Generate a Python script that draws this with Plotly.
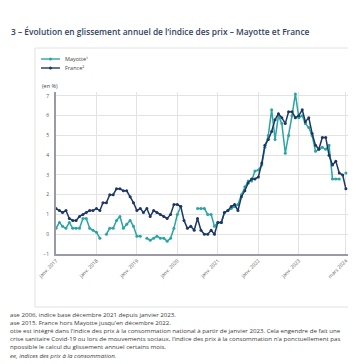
import pandas as pd
import plotly.graph_objects as go

months = pd.date_range("2017-01-01", "2024-03-01", freq="MS")

france = [
    1.3, 1.2, 1.1, 1.2, 0.8, 0.7, 0.7, 0.9, 1.0, 1.1, 1.2, 1.2,
    1.3, 1.2, 1.6, 1.6, 2.0, 2.0, 2.3, 2.3, 2.2, 2.2, 1.9, 1.6,
    1.2, 1.3, 1.1, 1.3, 0.9, 1.2, 1.1, 1.0, 0.9, 0.8, 1.0, 1.5,
    1.5, 1.4, 0.7, 0.3, 0.4, 0.2, 0.8, 0.2, 0.0, 0.0, 0.2, 0.0,
    0.6, 0.6, 1.1, 1.2, 1.4, 1.5, 1.2, 1.9, 2.2, 2.6, 2.8, 2.8,
    2.9, 3.6, 4.5, 4.8, 5.2, 5.8, 6.1, 5.9, 5.6, 6.2, 6.2, 5.9,
    6.0, 6.3, 5.7, 5.9, 5.1, 4.5, 4.3, 4.9, 4.9, 4.0, 3.5, 3.7,
    3.1, 3.0, 2.3,
]

mayotte = [
    0.3, 0.6, 0.4, 0.3, 0.6, 0.3, 0.3, 0.3, 0.8, 0.8, 0.3, 0.2,
    0.1, -0.2, None, 0.0, 0.3, 0.3, 0.7, 0.9, 0.3, 0.5, 0.7, 0.4,
    -0.1, -0.1, None, -0.2, -0.3, -0.2, -0.1, -0.2, -0.2, -0.35, -0.2, 0.3,
    1.0, 1.4, None, None, None, None, 1.3, 1.3, 1.3, 1.0, 1.0, 0.4,
    0.6, 0.6, 1.1, 1.2, 1.3, 1.4, 1.5, 2.0, 2.4, 2.7, 2.7, 3.2,
    3.25, 3.5, 4.4, 5.0, 6.3, 4.8, 6.0, 5.6, 4.1, 5.0, 6.0, 7.1,
    5.9, 6.0, 5.6, 5.4, 5.0, 4.2, 4.3, 4.4, 4.3, 4.5, 2.8, 2.8,
    2.8, None, 3.1,
]

tick_dates = ["2017-01-01", "2018-01-01", "2019-01-01", "2020-01-01",
              "2021-01-01", "2022-01-01", "2023-01-01", "2024-03-01"]
tick_labels = ["janv. 2017", "janv. 2018", "janv. 2019", "janv. 2020",
               "janv. 2021", "janv. 2022", "janv. 2023", "mars 2024"]
y_ticks = [-1, 0, 1, 2, 3, 4, 5, 6, 7]

series_names = ["Mayotte¹", "France²"]
title_text = "3 – Évolution en glissement annuel de l’indice des prix – Mayotte et France"
notes = [
    "ase 2006, indice base décembre 2021 depuis janvier 2023.",
    "ase 2015. France hors Mayotte jusqu’en décembre 2022.",
    "otte est intégré dans l’indice des prix à la consommation national à partir de janvier 2023. Cela engendre de fait une",
    "crise sanitaire Covid-19 ou lors de mouvements sociaux, l’indice des prix à la consommation n’a ponctuellement pas",
    "npossible le calcul du glissement annuel certains mois.",
    "<i>ee, indices des prix à la consommation.</i>",
]

TEAL = "#2aa5a1"
NAVY = "#1f3766"

W, H = 356, 364
L, R, T, B = 48, 16, 84, 118
pw, ph = W - L - R, H - T - B

def px(x):
    return (x - L) / pw

def py(y):
    return (H - B - y) / ph

fig = go.Figure()
fig.add_trace(go.Scatter(x=months, y=mayotte, mode="lines+markers", name=series_names[0],
                         line=dict(color=TEAL, width=1.5), marker=dict(size=3, color=TEAL),
                         showlegend=False))
fig.add_trace(go.Scatter(x=months, y=france, mode="lines+markers", name=series_names[1],
                         line=dict(color=NAVY, width=1.5), marker=dict(size=3, color=NAVY),
                         showlegend=False))

shapes = []
shapes.append(dict(type="rect", xref="paper", yref="paper", x0=px(27), x1=px(353), y0=py(299), y1=py(40),
                   line=dict(color="#e2e2e2", width=1), fillcolor="rgba(0,0,0,0)", layer="below"))
annotations = []
for i, (nm, col) in enumerate(zip(series_names, [TEAL, NAVY])):
    yy = 51 + 9 * i
    shapes.append(dict(type="line", xref="paper", yref="paper", x0=px(33), x1=px(52), y0=py(yy), y1=py(yy),
                       line=dict(color=col, width=1.4)))
    shapes.append(dict(type="circle", xref="paper", yref="paper", x0=px(41), x1=px(44), y0=py(yy + 1.5), y1=py(yy - 1.5),
                       line=dict(color=col, width=0), fillcolor=col))
    annotations.append(dict(text=nm, xref="paper", yref="paper", x=px(54.5), y=py(yy), xanchor="left", yanchor="middle",
                            showarrow=False, font=dict(size=5.5, color="#444", family="Open Sans")))

annotations.append(dict(text=title_text, xref="paper", yref="paper", x=px(1), y=py(23), xanchor="left", yanchor="middle",
                        showarrow=False, font=dict(size=8.4, color="#33425e", family="Open Sans", weight=600)))
annotations.append(dict(text="(en %)", xref="paper", yref="paper", x=px(42), y=py(78), xanchor="center", yanchor="middle",
                        showarrow=False, font=dict(size=5.5, color="#444", family="Open Sans")))
for i, t in enumerate(notes):
    annotations.append(dict(text=t, xref="paper", yref="paper", x=px(0), y=py(306.5 + 8.1 * i), xanchor="left",
                            yanchor="middle", showarrow=False,
                            font=dict(size=6.15, color="#3a3a3a", family="Open Sans")))

fig.update_layout(
    width=W, height=H, autosize=False,
    margin=dict(l=L, r=R, t=T, b=B),
    paper_bgcolor="white", plot_bgcolor="white",
    shapes=shapes, annotations=annotations,
    showlegend=False,
    xaxis=dict(type="date", range=["2017-01-01", "2024-03-20"], tickvals=tick_dates, ticktext=tick_labels,
               tickangle=-45, showgrid=True, gridcolor="#e3e3e3", gridwidth=1,
               showline=True, linecolor="#9a9aa6", linewidth=2, ticks="",
               tickfont=dict(size=5, color="#555", family="Open Sans"), zeroline=False),
    yaxis=dict(range=[-1, 7.2], tickvals=y_ticks, showgrid=True, gridcolor="#e3e3e3", gridwidth=1,
               showline=True, linecolor="#9a9aa6", linewidth=2, ticks="", zeroline=False,
               ticklabelstandoff=4,
               tickfont=dict(size=5, color="#555", family="Open Sans")),
)

fig.write_html("out.html")
